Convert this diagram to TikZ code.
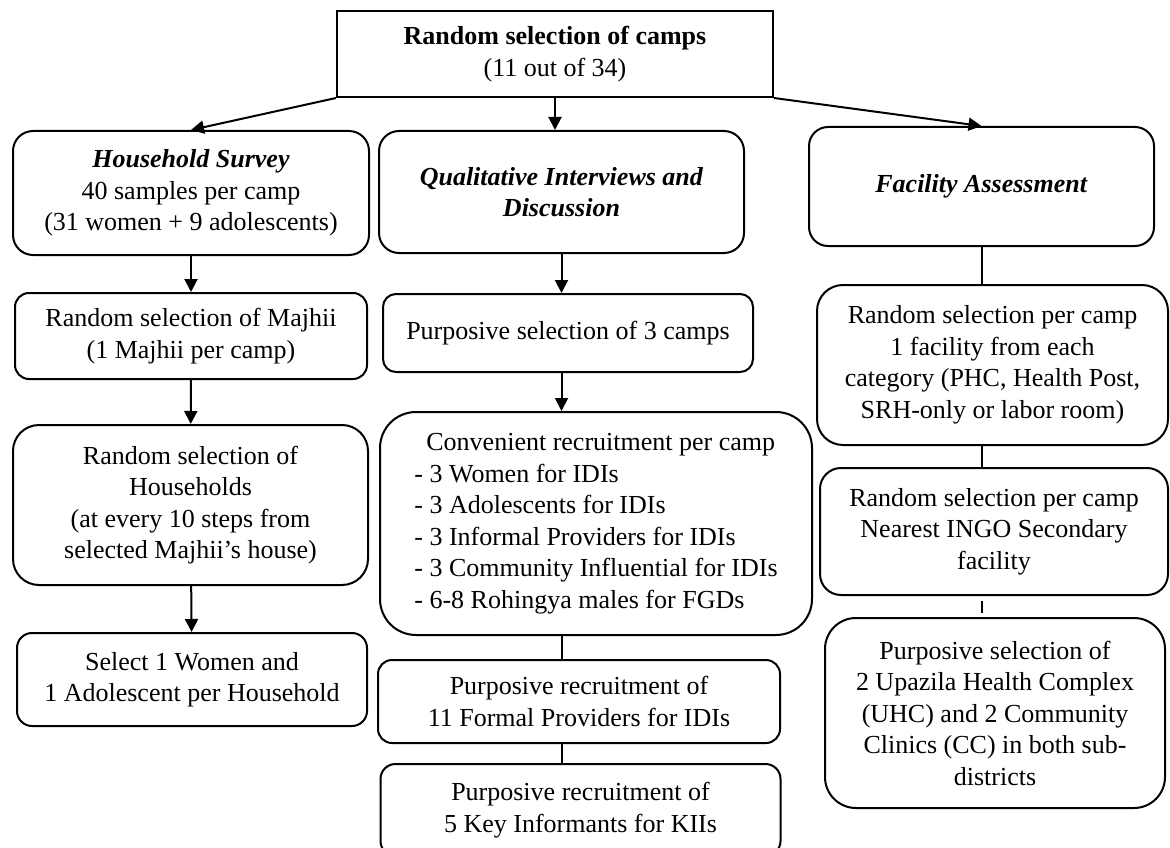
\documentclass[tikz,border=0pt]{standalone}
\usepackage{fontspec}
\setmainfont{Liberation Serif}
\usetikzlibrary{positioning}
\usetikzlibrary{arrows.meta}

\tikzset{
	stage/.style={draw, line width=2pt, align=center, inner sep=0pt, font=\fontsize{26}{31.5}\selectfont},
	flow/.style={line width=2pt, -{Triangle[length=13pt,width=13pt]}},
	link/.style={line width=2pt}
}

\begin{document}
\begin{tikzpicture}[x=1pt,y=-1pt]

	\useasboundingbox (0,0) rectangle (1170,848);

	\node[stage, minimum width=436pt, minimum height=86pt] (camps) at (555,54) {\textbf{Random selection of camps}\\(11 out of 34)};

	% the three arms
	\node[stage, rounded corners=20pt, minimum width=356pt, minimum height=124pt] (survey) at (191,193) {\textbf{\textit{Household Survey}}\\40 samples per camp\\(31 women + 9 adolescents)};
	\node[stage, rounded corners=20pt, minimum width=365pt, minimum height=122pt] (qual) at (561.5,192) {\textbf{\textit{Qualitative Interviews and}}\\\textbf{\textit{Discussion}}};
	\node[stage, rounded corners=19pt, minimum width=345pt, minimum height=119pt] (facil) at (981.5,186.5) {\textbf{\textit{Facility Assessment}}};

	% household survey
	\node[stage, rounded corners=14pt, minimum width=352pt, minimum height=86pt] (majhii) at (191,336) {Random selection of Majhii\\(1 Majhii per camp)};
	\node[stage, rounded corners=26pt, minimum width=355pt, minimum height=160pt] (homes) at (190.5,505) {Random selection of\\Households\\(at every 10 steps from\\selected Majhii’s house)};
	\node[stage, rounded corners=15pt, minimum width=350pt, minimum height=93pt] (pick) at (192,679.5) {Select 1 Women and\\1 Adolescent per Household};

	% qualitative part
	\node[stage, rounded corners=13pt, minimum width=370pt, minimum height=78pt] (threecamps) at (568,333) {Purposive selection of 3 camps};
	\node[stage, rounded corners=36pt, minimum width=432pt, minimum height=223pt, align=left] (convenient) at (596,523.5) {\hspace*{12pt}Convenient recruitment per camp\\- 3 Women for IDIs\\- 3 Adolescents for IDIs\\- 3 Informal Providers for IDIs\\- 3 Community Influential for IDIs\\- 6-8 Rohingya males for FGDs\hspace*{6pt}};
	\node[stage, rounded corners=14pt, minimum width=402pt, minimum height=83pt] (formal) at (579,701.5) {Purposive recruitment of\\11 Formal Providers for IDIs};
	\node[stage, rounded corners=15pt, minimum width=400pt, minimum height=92pt] (keyinf) at (580.5,810) {Purposive recruitment of\\5 Key Informants for KIIs};

	% facility part
	\node[stage, rounded corners=26pt, minimum width=351pt, minimum height=160pt] (randfac) at (992.5,365) {Random selection per camp\\1 facility from each\\category (PHC, Health Post,\\SRH-only or labor room)};
	\node[stage, rounded corners=21pt, minimum width=348pt, minimum height=127pt] (ingo) at (994,531.5) {Random selection per camp\\Nearest INGO Secondary\\facility};
	\node[stage, rounded corners=31pt, minimum width=340pt, minimum height=190pt] (uhc) at (995,713) {Purposive selection of\\2 Upazila Health Complex\\(UHC) and 2 Community\\Clinics (CC) in both sub-\\districts};

	\draw[flow] (camps.south west) -- (survey.north);
	\draw[flow] (camps.south) -- (camps.south |- qual.north);
	\draw[flow] (camps.south east) -- (facil.north);

	\draw[flow] (survey) -- (majhii);
	\draw[flow] (majhii) -- (homes);
	\draw[flow] (homes) -- (pick);

	\draw[flow] (qual) -- (qual |- threecamps.north);
	\draw[flow] (threecamps.south -| qual) -- (convenient.north -| qual);
	\draw[link] (convenient.south -| qual) -- (formal.north -| qual);
	\draw[link] (formal.south -| qual) -- (keyinf.north -| qual);

	\draw[link] (facil) -- (facil |- randfac.north);
	\draw[link] (randfac.south -| facil) -- (ingo.north -| facil);
	\draw[link, shorten <=5pt, shorten >=4pt] (ingo.south -| facil) -- (uhc.north -| facil);

\end{tikzpicture}
\end{document}
